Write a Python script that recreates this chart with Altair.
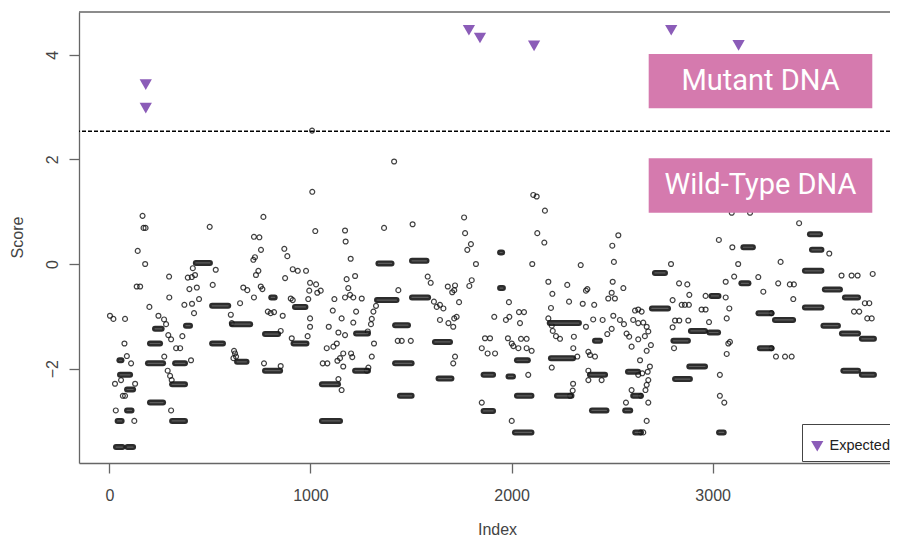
import altair as alt
import pandas as pd

# ---- single points (index, score) ----
PT_IDX = [
    165, 170, 180, 141, 178, 136, 153, 499, 529, 415, 390, 410, 426, 435, 398, 514, 297, 298, 199, 373,
    411, 446, 421, 604, 609, 3, 20, 78, 244, 272, 282, 363, 293, 307, 332, 352, 75, 87, 108, 273,
    406, 290, 302, 310, 625, 617, 28, 58, 128, 67, 78, 307, 32, 124,
    1008, 1009, 766, 719, 746, 754, 716, 724, 741, 729, 753, 761, 666, 686, 719, 650, 788, 802, 819, 862,
    620, 630, 852, 870, 885, 912, 937, 978, 874, 1024, 998, 1028, 1034, 1051, 994, 902, 912, 989, 998, 998,
    907, 986, 769, 852, 1172, 1175, 1200, 1222, 1180, 1188, 1197, 1172, 1213, 1255, 1119, 1111, 1155, 1227, 1213, 1091,
    1139, 1172, 1131, 1114, 1081, 1163, 1147, 1134, 1202, 1208, 1061, 1084, 1163, 1139, 1155,
    1416, 1366, 1508, 1583, 1598, 1437, 1764, 1769, 1798, 1780, 1823, 1802, 1790, 1683, 1719, 1705, 1715, 1739, 1326, 1313,
    1305, 1301, 1285, 1614, 1628, 1661, 1644, 1434, 1454, 1499, 1316, 1305, 1288, 1280, 1644, 1686, 1715, 1710, 1727, 1719,
    1710, 1914, 1868, 1893, 1852, 1881, 1918, 1852,
    2108, 2125, 2166, 2128, 2163, 2103, 2344, 2531, 2501, 2509, 2183, 2203, 2196, 2277, 2377, 2370, 2286, 2354, 2411, 2503,
    2556, 2498, 2481, 2514, 1987, 1989, 1972, 2037, 2062, 2042, 2183, 2200, 2205, 2370, 2406, 2453, 2506, 2498, 2476, 2539,
    2559, 1982, 2001, 2009, 2047, 2075, 2034, 2075, 2100, 2221, 2241, 2310, 2307, 2327, 2200, 2382, 2390, 2415, 2083, 2382,
    2382, 2448, 2306, 2304, 2291, 2001, 2597, 2569, 2597, 2572, 2585, 2614, 2605,
    3095, 3186, 3031, 3098, 3127, 3107, 3065, 3227, 3252, 2793, 2833, 2874, 2884, 2965, 3065, 3083, 3070, 2801, 2846, 2882,
    2862, 2945, 2965, 2813, 2834, 2879, 2982, 2801, 2808, 3086, 3078, 3070, 3036, 3036, 3058,
    2630, 2647, 2630, 2655, 2672, 2680, 2663, 2630, 2693, 2672, 2639, 2688, 2677, 2650, 2630, 2680, 2672, 2666, 2644, 2680,
    2672, 2644, 2655,
    3430, 3580, 3338, 3326, 3384, 3404, 3401, 3641, 3691, 3721, 3796, 3757, 3779, 3703, 3729, 3769, 3791, 3293, 3293, 3315,
    3360, 3393,
]
PT_SCORE = [
    0.92, 0.69, 0.69, 0.25, 0.00, -0.43, -0.43, 0.71, -0.11, -0.08, -0.26, -0.25, -0.21, -0.45, -0.48, -0.40, -0.24, -0.64, -0.82, -0.78,
    -0.76, -0.67, -0.94, -0.97, -1.13, -0.99, -1.05, -1.05, -0.99, -1.06, -1.15, -1.38, -1.36, -1.44, -1.61, -1.61, -1.52, -1.76, -1.90, -1.77,
    -1.84, -2.04, -2.14, -2.22, -1.71, -1.80, -2.29, -2.22, -2.29, -2.52, -2.52, -2.80, -2.80, -3.00,
    2.55, 1.38, 0.90, 0.52, 0.51, 0.27, 0.08, 0.13, -0.13, -0.21, -0.43, -0.48, -0.45, -0.50, -0.64, -0.75, -0.91, -0.94, -0.92, -0.99,
    -1.66, -1.77, -1.28, 0.29, 0.15, -0.10, -0.13, -0.13, -0.27, 0.63, -0.36, -0.39, -0.55, -0.51, -0.51, -0.66, -0.69, -0.67, -1.04, -1.20,
    -1.42, -1.38, -1.90, -1.95, 0.64, 0.43, 0.10, -0.23, -0.29, -0.46, -0.59, -0.64, -0.64, -0.66, -0.67, -0.89, -1.04, -0.91, -1.12, -1.20,
    -1.31, -1.36, -1.52, -1.58, -1.61, -1.71, -1.80, -1.85, -1.71, -1.78, -1.90, -1.90, -1.96, -2.20, -2.41,
    1.96, 0.69, 0.76, -0.24, -0.36, -0.50, 0.89, 0.59, 0.38, 0.27, 0.00, -0.31, -0.42, -0.43, -0.41, -0.54, -0.50, -0.73, -0.80, -0.91,
    -1.05, -1.15, -1.29, -0.72, -0.82, -0.85, -0.78, -1.47, -1.47, -1.47, -1.52, -1.77, -1.98, -2.04, -1.07, -1.13, -1.04, -1.20, -1.01, -1.77,
    -1.90, -1.01, -1.42, -1.42, -1.61, -1.71, -1.71, -2.65,
    1.32, 1.29, 1.02, 0.59, 0.41, 0.00, -0.02, 0.55, 0.35, 0.04, -0.34, -0.57, -0.84, -0.40, -0.48, -0.51, -0.72, -0.76, -0.78, -0.34,
    -0.46, -0.55, -0.66, -0.66, -0.73, -1.01, -1.07, -0.92, -0.92, -1.13, -1.04, -1.18, -1.28, -1.20, -1.06, -1.07, -0.99, -1.24, -1.34, -1.07,
    -1.15, -1.42, -1.52, -1.57, -1.43, -1.43, -1.61, -1.61, -1.66, -1.38, -1.43, -1.39, -1.61, -1.77, -1.98, -1.68, -1.74, -1.77, -2.12, -2.04,
    -2.22, -2.22, -2.29, -2.42, -2.52, -3.00, -2.41, -2.65, -1.58, -1.33, -1.39, -0.89, -1.07,
    0.98, 0.98, 0.46, 0.32, 0.00, -0.24, -0.34, -0.25, -0.53, 0.00, -0.37, -0.39, -0.59, -0.61, -0.64, -0.85, -1.04, -0.69, -0.78, -0.78,
    -0.78, -0.87, -0.87, -1.08, -1.08, -1.08, -1.11, -1.21, -1.61, -1.49, -1.52, -1.72, -2.12, -2.52, -2.65,
    -0.87, -0.91, -1.13, -1.12, -1.20, -1.29, -1.38, -1.44, -1.55, -1.66, -1.84, -1.96, -2.06, -2.09, -2.12, -2.22, -2.31, -2.41, -2.52, -2.65,
    -3.00, -3.22, -3.22,
    0.78, 0.20, 0.04, -0.37, -0.39, -0.39, -0.67, -0.22, -0.22, -0.22, -0.19, -0.75, -0.75, -0.91, -0.91, -1.04, -1.04, -0.94, -1.61, -1.77,
    -1.77, -1.77,
]

# ---- runs of consecutive indices sharing one score (start index, end index, score) ----
RUN_START = [
    430, 511, 227, 381, 202, 511, 50, 192, 327, 312, 53, 88, 202, 88, 41, 312, 33, 90,
    805, 610, 635, 774, 923, 916, 774, 1227, 1222, 1057, 1057,
    1338, 1505, 1943, 1943, 1331, 1505, 1421, 1421, 1445, 1619, 1637, 1861, 1861,
    2190, 2415, 2027, 2196, 1985, 2390, 2027, 2226, 2400, 2017, 2579, 2605, 2565, 2615,
    3153, 3143, 2713, 2994, 2698, 2892, 2984, 2805, 2884, 2813, 3032, 3228, 3235,
    3484, 3494, 3459, 3558, 3658, 3459, 3310, 3551, 3643, 3742, 3650, 3742,
]
RUN_END = [
    500, 591, 260, 401, 252, 565, 60, 267, 376, 376, 103, 118, 267, 110, 61, 376, 65, 118,
    822, 700, 682, 839, 975, 980, 849, 1286, 1286, 1137, 1147,
    1403, 1577, 1953, 1957, 1428, 1585, 1485, 1503, 1503, 1694, 1701, 1908, 1908,
    2335, 2440, 2081, 2306, 2007, 2465, 2099, 2298, 2472, 2099, 2629, 2640, 2590, 2640,
    3200, 3178, 2763, 3029, 2778, 2962, 3027, 2877, 2962, 2887, 3055, 3292, 3292,
    3534, 3541, 3541, 3633, 3723, 3541, 3400, 3623, 3723, 3802, 3723, 3802,
]
RUN_SCORE = [
    0.02, -0.80, -1.24, -1.18, -1.52, -1.52, -1.84, -1.90, -1.90, -2.30, -2.12, -2.40, -2.65, -2.80, -3.00, -3.00, -3.50, -3.50,
    -0.64, -1.15, -1.87, -1.34, -0.82, -1.52, -2.04, -1.33, -2.04, -2.30, -3.00,
    0.01, 0.06, 0.22, -0.46, -0.69, -0.64, -1.17, -1.90, -2.52, -1.49, -2.19, -2.12, -2.81,
    -1.13, -1.47, -1.84, -1.80, -2.15, -2.12, -2.52, -2.52, -2.80, -3.22, -2.06, -2.52, -2.80, -3.22,
    0.32, -0.37, -0.17, -0.61, -0.85, -1.28, -1.31, -1.47, -1.96, -2.20, -3.22, -0.94, -1.61,
    0.57, 0.27, -0.13, -0.49, -0.64, -0.83, -1.07, -1.18, -1.33, -1.43, -2.04, -2.12,
]

# ---- expected (mutant) scores ----
EXP_IDX = [181, 181, 1788, 1843, 2112, 2794, 3129]
EXP_SCORE = [3.43, 2.98, 4.47, 4.32, 4.17, 4.47, 4.18]
EXP_LABEL = "Expected"

THRESHOLD = [2.54]

# ---- annotation labels ----
BOX_TEXT = ["Mutant DNA", "Wild-Type DNA"]
BOX_X1 = [2682, 2682]
BOX_X2 = [3794, 3794]
BOX_Y1 = [2.977, 0.981]
BOX_Y2 = [4.015, 2.021]

X_TICKS = [0, 1000, 2000, 3000]
Y_TICKS = [-2, 0, 2, 4]

W, H = 811, 451
FONT = "Liberation Sans"
TXT = "#444444"

pts = pd.DataFrame({"Index": PT_IDX, "Score": PT_SCORE})
runs = pd.DataFrame({"start": RUN_START, "end": RUN_END, "Score": RUN_SCORE})
exp = pd.DataFrame({"Index": EXP_IDX, "Score": EXP_SCORE, "kind": [EXP_LABEL] * len(EXP_IDX)})
thr = pd.DataFrame({"Score": THRESHOLD})
boxes = pd.DataFrame({
    "label": BOX_TEXT, "x1": BOX_X1, "x2": BOX_X2, "y1": BOX_Y1, "y2": BOX_Y2,
})
boxes["xc"] = (boxes["x1"] + boxes["x2"]) / 2
boxes["yc"] = (boxes["y1"] + boxes["y2"]) / 2

xs = alt.Scale(domain=[-151, 3882], nice=False, zero=False)
ys = alt.Scale(domain=[-3.805, 4.818], nice=False, zero=False)

x_axis = alt.Axis(
    values=X_TICKS, title="Index", grid=False, tickSize=10, labelPadding=14, format="d",
    labelBaseline="top", titleX=418, titleY=66, titleBaseline="middle",
    titleAlign="center", labelFlush=False,
)
y_axis = alt.Axis(
    values=Y_TICKS, title="Score", grid=False, tickSize=10, labelAngle=270, format="d",
    labelAlign="center", labelBaseline="alphabetic", labelPadding=12,
    titleAngle=270, titleX=-62, titleY=225, titleAlign="center", titleBaseline="middle",
    labelFlush=False,
)

X = lambda f: alt.X(f, scale=xs, axis=x_axis)
Y = lambda f: alt.Y(f, scale=ys, axis=y_axis)

base_pts = alt.Chart(pts).mark_point(
    shape="circle", filled=False, size=24, strokeWidth=1.2, color="#111111", opacity=0.8
).encode(x=X("Index:Q"), y=Y("Score:Q"))

run_layer = alt.Chart(runs).mark_rule(
    strokeCap="round", strokeWidth=6, color="#151515", opacity=0.9
).encode(x=X("start:Q"), x2="end:Q", y=Y("Score:Q"))

run_inner = alt.Chart(runs).mark_rule(
    strokeCap="round", strokeWidth=1.2, color="#9a9a9a", opacity=0.45
).encode(x=X("start:Q"), x2="end:Q", y=Y("Score:Q"))

thr_layer = alt.Chart(thr).mark_rule(
    color="black", strokeWidth=1.5, strokeDash=[4, 2]
).encode(y=Y("Score:Q"))

leg = alt.Legend(
    orient="none", legendX=723, legendY=412, title=" ", titleFontSize=5, titlePadding=2,
    strokeColor="#444444",
    fillColor="white", padding=8, labelFontSize=14.5, labelFont=FONT, labelColor="#222222",
    symbolSize=150, symbolStrokeWidth=0, labelOffset=5, cornerRadius=0,
)
exp_layer = alt.Chart(exp).mark_point(filled=True, size=150, opacity=1).encode(
    x=X("Index:Q"), y=Y("Score:Q"),
    shape=alt.Shape("kind:N", scale=alt.Scale(domain=[EXP_LABEL], range=["triangle-down"]), legend=leg),
    color=alt.Color("kind:N", scale=alt.Scale(domain=[EXP_LABEL], range=["#8B5CB8"]), legend=leg),
)

box_layer = alt.Chart(boxes).mark_rect(color="#D57AAE").encode(
    x=X("x1:Q"), x2="x2:Q", y=Y("y1:Q"), y2="y2:Q",
)
box_text = alt.Chart(boxes).mark_text(
    font="Roboto", fontSize=29, color="white", baseline="middle", align="center"
).encode(x=X("xc:Q"), y=Y("yc:Q"), text="label:N")

top_line = alt.Chart(thr).mark_rule(color="#666666", strokeWidth=1.3).encode(
    y=alt.value(0), x=alt.value(0), x2=alt.value(W)
)

chart = alt.layer(
    base_pts, run_layer, run_inner, thr_layer, exp_layer, box_layer, box_text, top_line
).properties(
    width=W, height=H,
    autosize=alt.AutoSizeParams(type="none"),
    padding={"left": 71, "top": 4, "right": 0, "bottom": 75},
).configure_view(stroke=None).configure_axis(
    domainColor="#666666", domainWidth=1.3, tickColor="#666666", tickWidth=1.3,
    labelFont=FONT, labelFontSize=16, labelColor=TXT,
    titleFont=FONT, titleFontSize=16, titleColor=TXT, titleFontWeight="normal",
)

chart.save("out.html", embed_options={"renderer": "svg", "actions": False})
